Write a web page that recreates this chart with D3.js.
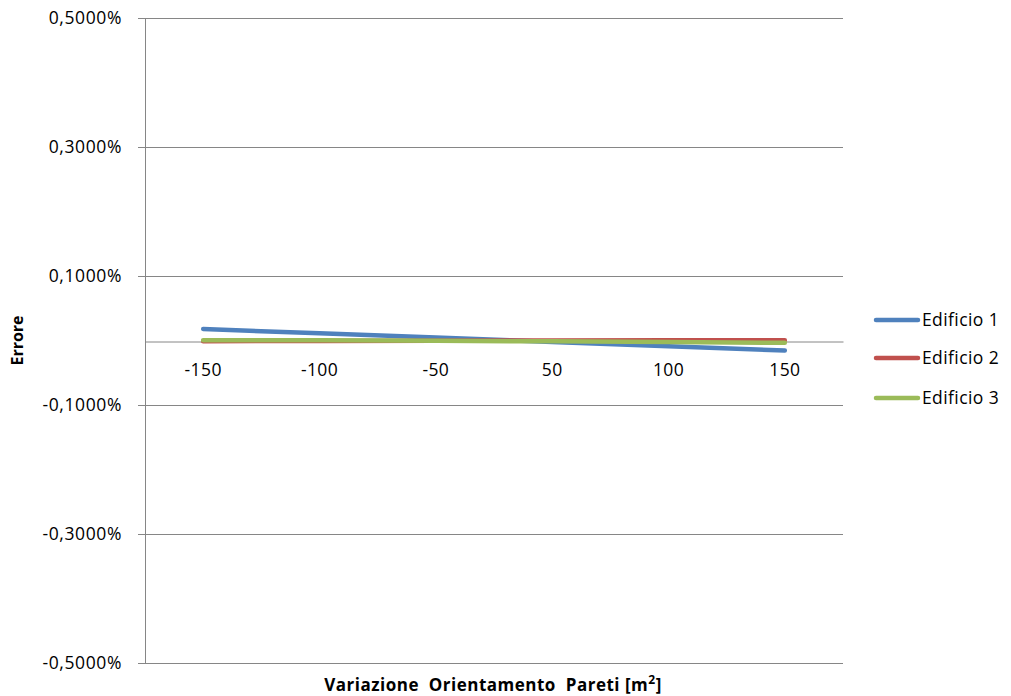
<!DOCTYPE html>
<html>
<head>
<meta charset="utf-8">
<script src="https://cdn.jsdelivr.net/npm/d3@7"></script>
<style>
  body { margin: 0; background: #fff; }
  svg text { font-family: "Open Sans", "Liberation Sans", sans-serif; fill: #000; }
</style>
</head>
<body>
<svg id="chart" width="1011" height="696"></svg>
<script>
// Wall orientation variation (m²) and the resulting error (%)
const categories = ["-150", "-100", "-50", "50", "100", "150"];
const edificio1 = [0.0178, 0.0112, 0.0045, -0.0022, -0.0089, -0.0155];
const edificio2 = [-0.0010, -0.0007, -0.0003, 0.0000, 0.0003, 0.0005];
const edificio3 = [0.0005, 0.0002, -0.0005, -0.0013, -0.0025, -0.0036];
const yTicks = [-0.5, -0.3, -0.1, 0.1, 0.3, 0.5];

const series = [
  { name: "Edificio 1", values: edificio1, color: "#4F81BD" },
  { name: "Edificio 2", values: edificio2, color: "#C0504D" },
  { name: "Edificio 3", values: edificio3, color: "#9BBB59" }
];

const svg = d3.select("#chart");
const plot = { left: 145, right: 843, top: 18, bottom: 663 };
const labelSize = 17.5;

const x = d3.scaleBand().domain(categories).range([plot.left, plot.right]);
const y = d3.scaleLinear().domain([-0.5, 0.5]).range([plot.bottom, plot.top]);

const fmt = v => d3.format(".4f")(v).replace(".", ",").replace("−", "-") + "%";

// gridlines and value axis
const yAxis = d3.axisLeft(y).tickValues(yTicks).tickSize(7).tickPadding(16).tickFormat(fmt);
const gy = svg.append("g").attr("transform", `translate(${plot.left},0)`).call(yAxis);
gy.select(".domain").attr("stroke", "#868686");
gy.selectAll(".tick line").attr("stroke", "#868686");
gy.selectAll(".tick text").attr("font-size", labelSize).attr("fill", "#000")
  .attr("letter-spacing", 0.6);

svg.append("g").selectAll("line").data(yTicks).join("line")
  .attr("x1", plot.left).attr("x2", plot.right)
  .attr("y1", d => Math.round(y(d)) + 0.5).attr("y2", d => Math.round(y(d)) + 0.5)
  .attr("stroke", "#868686").attr("stroke-width", 1);

// category axis crossing at zero
const gx = svg.append("g").attr("transform", `translate(0,${Math.round(y(0)) + 0.5})`)
  .call(d3.axisBottom(x).tickSize(0).tickPadding(22));
gx.select(".domain").attr("stroke", "#868686");
gx.selectAll(".tick text").attr("font-size", labelSize).attr("fill", "#000")
  .attr("letter-spacing", 0.4);

// series lines
const line = d3.line()
  .x((d, i) => x(categories[i]) + x.bandwidth() / 2)
  .y(d => y(d));

svg.append("g").selectAll("path").data(series).join("path")
  .attr("d", d => line(d.values))
  .attr("fill", "none")
  .attr("stroke", d => d.color)
  .attr("stroke-width", 4.5)
  .attr("stroke-linecap", "round")
  .attr("stroke-linejoin", "round");

// axis titles
svg.append("text")
  .attr("transform", `translate(23,${(plot.top + plot.bottom) / 2}) rotate(-90)`)
  .attr("text-anchor", "middle")
  .attr("font-size", 16).attr("font-weight", "bold")
  .text("Errore");

const xt = svg.append("text")
  .attr("x", 493).attr("y", 691)
  .attr("text-anchor", "middle")
  .attr("font-size", 17).attr("font-weight", "bold")
  .attr("letter-spacing", 0.5)
  .style("white-space", "pre");
xt.append("tspan").text("Variazione  Orientamento  Pareti [m");
xt.append("tspan").attr("font-size", 12).attr("dy", -7).text("2");
xt.append("tspan").attr("dy", 7).text("]");

// legend
const legend = svg.append("g").selectAll("g").data(series).join("g")
  .attr("transform", (d, i) => `translate(876,${[320, 358, 398][i]})`);
legend.append("line")
  .attr("x1", 0).attr("x2", 42).attr("y1", 0).attr("y2", 0)
  .attr("stroke", d => d.color).attr("stroke-width", 4.5).attr("stroke-linecap", "round");
legend.append("text")
  .attr("x", 46).attr("y", 0).attr("dy", "0.35em")
  .attr("font-size", labelSize).attr("letter-spacing", 0.4)
  .text(d => d.name);
</script>
</body>
</html>
